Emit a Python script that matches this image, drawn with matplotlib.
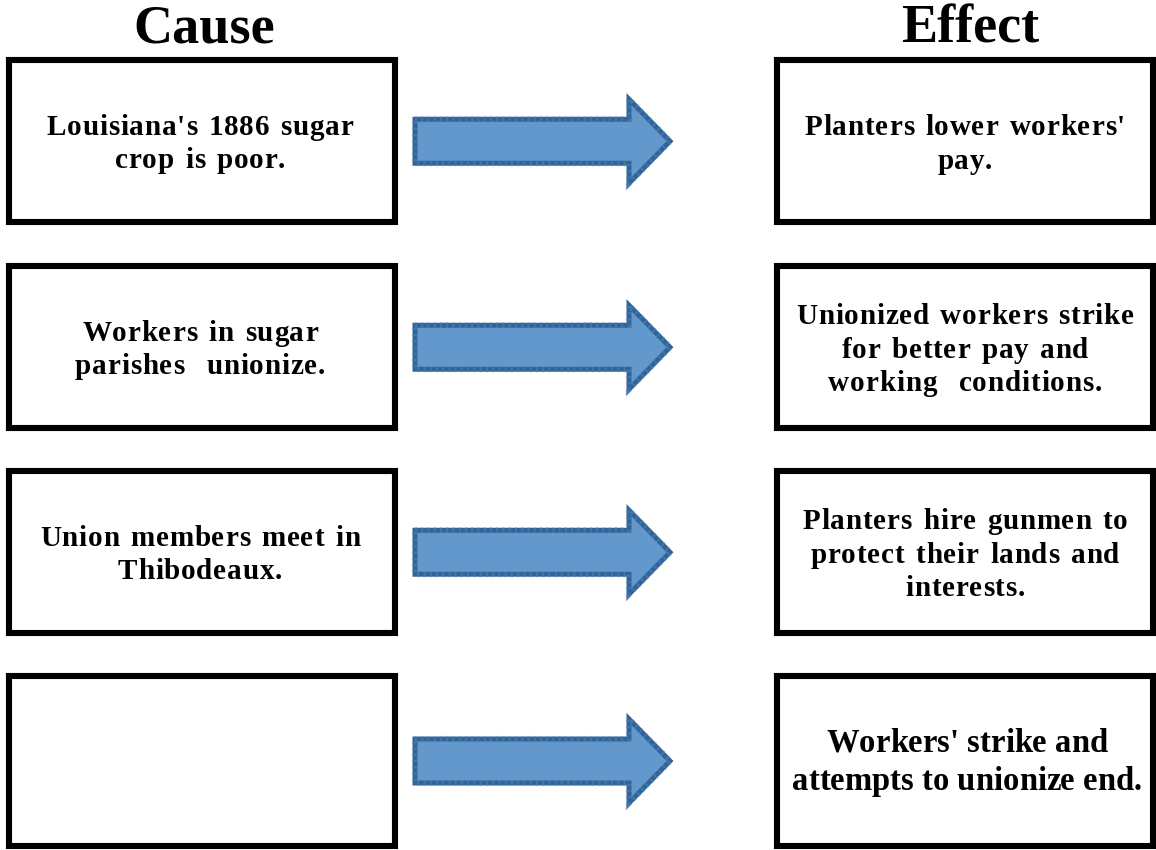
import matplotlib.pyplot as plt
from matplotlib.patches import Rectangle, Polygon
from matplotlib.font_manager import FontProperties, findfont, get_font

# Texto de las cajas
titles = ["Cause", "Effect"]
causes = [
    "Louisiana's 1886 sugar\ncrop is poor.",
    "Workers in sugar\nparishes  unionize.",
    "Union members meet in\nThibodeaux.",
    "",
]
effects = [
    "Planters lower workers'\npay.",
    "Unionized workers strike\nfor better pay and\nworking  conditions.",
    "Planters hire gunmen to\nprotect their lands and\ninterests.",
    "Workers' strike and\nattempts to unionize end.",
]

W, H = 1156, 850
fig = plt.figure(figsize=(W / 100, H / 100), dpi=100, facecolor='white')
ax = fig.add_axes([0, 0, 1, 1])
ax.set_xlim(0, W)
ax.set_ylim(H, 0)
ax.axis('off')

serif = ['Liberation Serif', 'DejaVu Serif']
fp = FontProperties(family=serif, weight='bold')
ft = get_font(findfont(fp))


def advance(ch, size):
    ft.set_size(size, 100)
    g = ft.load_char(ord(ch))
    return g.linearHoriAdvance / 65536.0


def tracked_text(xc, yc, txt, size, track, wspace, spacing, offset):
    # dibuja cada letra por separado para imitar el espaciado ancho
    lines = txt.split("\n")
    n = len(lines)
    for i, line in enumerate(lines):
        if not line:
            continue
        advs = [advance(c, size) + track + (wspace if c == ' ' else 0) for c in line]
        width = sum(advs) - track
        x = xc - width / 2
        y = yc + offset + (i - (n - 1) / 2) * spacing
        for c, a in zip(line, advs):
            if c != ' ':
                ax.text(x, y, c, fontsize=size, fontweight='bold', family=serif,
                        ha='left', va='baseline')
            x += a


ax.text(204, 29, titles[0], fontsize=39, fontweight='bold', family=serif,
        ha='center', va='center')
ax.text(970, 29, titles[1], fontsize=39, fontweight='bold', family=serif,
        ha='center', va='center')

tops = [60, 266, 471, 675.5]
heights = [161.5, 161.5, 161.5, 170]

for i in range(4):
    top, h = tops[i], heights[i]
    cy = top + h / 2
    # caja causa
    ax.add_patch(Rectangle((8.5, top), 386.5, h, fill=False, edgecolor='black',
                           linewidth=4.4, joinstyle='miter'))
    # caja efecto
    ax.add_patch(Rectangle((776.5, top), 376.5, h, fill=False, edgecolor='black',
                           linewidth=4.4, joinstyle='miter'))

    tracked_text(200, cy, causes[i], 21, 0.8, 2.5, 33, 11)
    if i < 3:
        tracked_text(965, cy, effects[i], 21, 0.8, 2.5, 33.5, 11)
    else:
        tracked_text(967, cy, effects[i], 23.5, 0, 0, 38, 10.5)

    # flecha
    ay = cy + 0.5
    pts = [(415, ay - 22), (629, ay - 22), (629, ay - 42), (670, ay),
           (629, ay + 42), (629, ay + 22), (415, ay + 22)]
    ax.add_patch(Polygon(pts, closed=True, facecolor='#6298CC', edgecolor='#30659B',
                         linewidth=3.6, joinstyle='miter'))
    ax.add_patch(Polygon(pts, closed=True, fill=False, edgecolor='#5A86B0',
                         linewidth=4.5, linestyle=(0, (0.3, 0.7)), joinstyle='miter',
                         alpha=0.5))

fig.savefig('out.png', dpi=100, facecolor='white')
